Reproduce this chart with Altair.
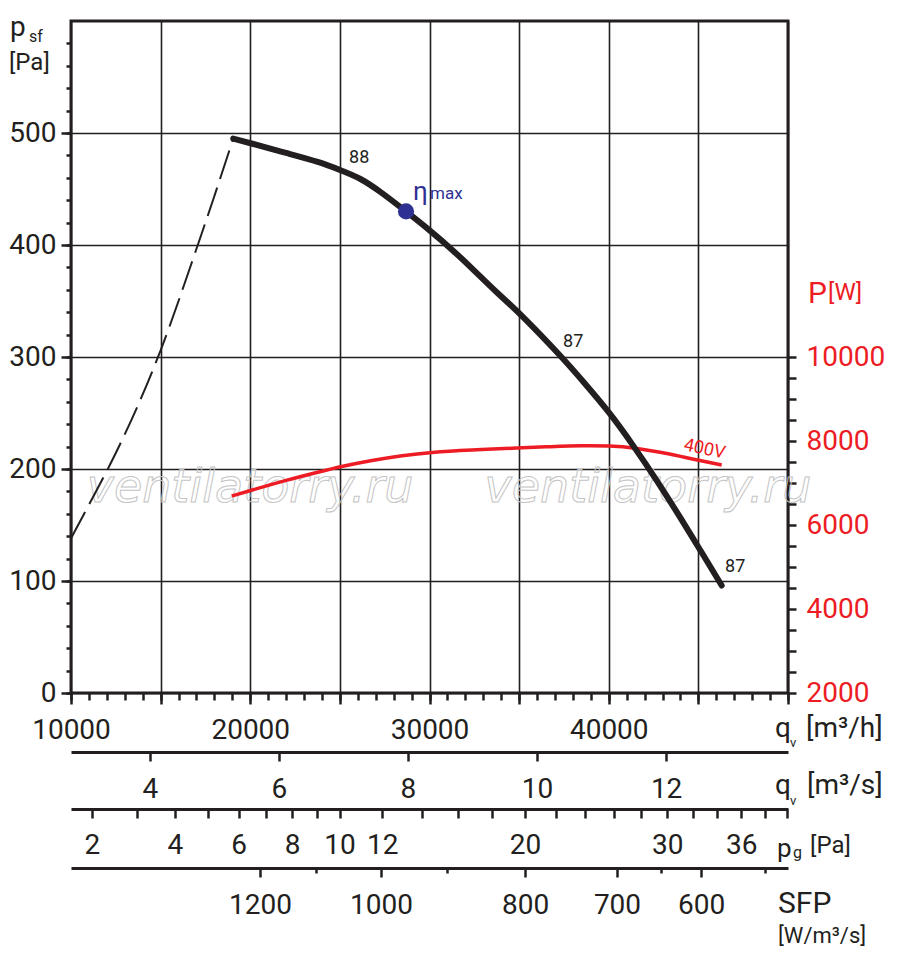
import math
import altair as alt
import pandas as pd

FONT = "Roboto"
INK = "#231f20"
RED = "#ed1c24"
NAVY = "#2e3192"

# ---------------- data ----------------
# fan curve: static pressure p_sf [Pa] vs volume flow q_v [m3/h]
curve_q = [19050, 19990, 22030, 23890, 25010, 26120, 27240, 28690, 30030, 31330,
           32450, 33750, 35050, 37380, 38580, 40070, 41370, 42680, 43980, 45090, 46300]
curve_p = [495, 491, 482, 474, 467, 460, 448, 430, 413, 395,
           378, 357.5, 339, 300, 278, 250, 221, 190, 157, 128, 96]

# stall limit (dashed)
stall_q = [10000, 11230, 12180, 15000, 17030, 17920, 19050]
stall_p = [138, 175, 204, 306, 398, 440, 495]

# input power P [W] (400V)
power_q = [18970, 19990, 22030, 23890, 25010, 26680, 28540, 30030, 32260, 35050,
           36720, 38580, 40070, 41370, 43230, 44720, 46300]
power_w = [6690, 6817, 7071, 7269, 7388, 7535, 7660, 7731, 7785, 7835,
           7865, 7895, 7885, 7845, 7707, 7564, 7429]

# best efficiency point
eta_q = [28690]
eta_p = [430]

# axis ticks
q_major = list(range(10000, 50001, 5000))
q_minor = list(range(10000, 50001, 1000))
p_major = list(range(0, 501, 100))
p_minor = list(range(0, 581, 20))
pw_ticks = list(range(2000, 10001, 500))
qs_ticks = [4, 6, 8, 10, 12]                               # q_v [m3/s]
pg_ticks = list(range(2, 11)) + list(range(12, 41, 2))     # p_g [Pa]
pg_labels = [2, 4, 6, 8, 10, 12, 20, 30, 36]
PG_K = 0.2077                                              # p_g = K * q[m3/s]^2
sfp_major = [1200, 1000, 800, 700, 600]
sfp_major_q = [20540, 27290, 35330, 40460, 45150]
sfp_minor_q = [23670, 30980, 42920, 48720]

# annotations inside the plot
ann_text = ["88", "87", "87", "η", "max", "400V"]
ann_q = [25510, 37450, 46490, 29080, 30030, 44140]
ann_p = [473.2, 308.9, 108, 440, 441, 217]

# axis captions
cap_text = ["p", "sf", "[Pa]", "P", "[W]",
            "q", "v", "[m³/h]", "q", "v", "[m³/s]",
            "p", "g", "[Pa]", "SFP", "[W/m³/s]"]
cap_q = [6600, 7660, 6540, 51117, 52233,
         49276, 50113, 51006, 49276, 50113, 51062,
         49388, 50280, 51230, 49444, 49444]
cap_p = [586.6, 581, 556.5, 348.2, 350.9,
         -39.3, -48.2, -39.3, -90.2, -100, -90.2,
         -146.4, -147.3, -142.9, -196.4, -223.2]

wm_text = ["ventilatorry.ru", "ventilatorry.ru"]
wm_q = [19990, 42190]
wm_p = [170.5, 170.5]

# ---------------- styling ----------------
ann_size = [18, 18, 18, 26, 17, 18]
ann_color = [INK, INK, INK, NAVY, NAVY, RED]
ann_angle = [0, 0, 0, 0, 0, 12]
cap_size = [28, 16, 24, 30, 24, 28, 13, 28, 28, 13, 28, 26, 16, 24, 30, 22]
cap_color = [INK, INK, INK, RED, RED] + [INK] * 11

xs = alt.Scale(domain=[10000, 50000], nice=False, zero=False)
ys = alt.Scale(domain=[0, 600], nice=False, zero=False)
ws = alt.Scale(domain=[2000, 18000], nice=False, zero=False)


def ax(**kw):
    base = dict(title=None, labelFont=FONT, labelFontSize=28, labelColor=INK,
                tickColor=INK, tickWidth=2.5, domainColor=INK, domainWidth=3,
                labelFlush=False, labelOverlap=False, grid=False, domain=False)
    base.update(kw)
    return alt.Axis(**base)


pg_q = [3600 * math.sqrt(p / PG_K) for p in pg_ticks]
pg_expr = (f"indexof({pg_labels}, round({PG_K}*pow(datum.value/3600,2))) >= 0"
           f" ? '' + round({PG_K}*pow(datum.value/3600,2)) : ''")
sfp_expr = (f"indexof({sfp_major_q}, datum.value) >= 0 ? "
            f"'' + {sfp_major}[indexof({sfp_major_q}, datum.value)] : ''")

wm = alt.Chart(pd.DataFrame({"t": wm_text, "q": wm_q, "p": wm_p})).mark_text(
    font="DejaVu Sans", fontStyle="italic", fontSize=46, align="center",
    baseline="alphabetic", fill="transparent", stroke="#c4c4c4", strokeWidth=1
).encode(x=alt.X("q:Q", scale=xs, axis=None),
         y=alt.Y("p:Q", scale=ys, axis=None), text="t:N")

stall = alt.Chart(pd.DataFrame({"q": stall_q, "p": stall_p})).mark_line(
    color=INK, strokeWidth=2, strokeDash=[30, 9], interpolate="monotone"
).encode(
    x=alt.X("q:Q", scale=xs, axis=ax(
        orient="bottom", values=q_major, grid=True, gridColor=INK, gridWidth=1.6,
        tickSize=11, labelPadding=12,
        labelExpr="datum.value % 10000 == 0 && datum.value < 50000 ? '' + datum.value : ''")),
    y=alt.Y("p:Q", scale=ys, axis=ax(
        orient="left", values=p_major, grid=True, gridColor=INK, gridWidth=1.6,
        tickSize=10, labelPadding=5, format="d")),
)

power = alt.Chart(pd.DataFrame({"q": power_q, "w": power_w})).mark_line(
    color=RED, strokeWidth=3.5, interpolate="basis"
).encode(
    x=alt.X("q:Q", scale=xs, axis=ax(
        orient="bottom", offset=59, domain=True, values=[v * 3600 for v in qs_ticks],
        tickSize=9, labelPadding=14, labelExpr="'' + round(datum.value/3600)")),
    y=alt.Y("w:Q", scale=ws, axis=ax(
        orient="right", values=pw_ticks, tickSize=8, labelPadding=10,
        labelColor=RED, labelExpr="datum.value % 2000 == 0 ? '' + datum.value : ''")),
)

curve = alt.Chart(pd.DataFrame({"q": curve_q, "p": curve_p})).mark_line(
    color=INK, strokeWidth=6, interpolate="basis", strokeCap="round"
).encode(
    x=alt.X("q:Q", scale=xs, axis=ax(orient="bottom", values=q_minor, tickSize=7, labels=False)),
    y=alt.Y("p:Q", scale=ys, axis=ax(orient="left", values=p_minor, tickSize=5, labels=False)),
)

eta = alt.Chart(pd.DataFrame({"q": eta_q, "p": eta_p})).mark_circle(
    size=260, color=NAVY, opacity=1
).encode(
    x=alt.X("q:Q", scale=xs, axis=ax(
        orient="bottom", offset=116, domain=True, values=pg_q, tickSize=9,
        labelPadding=13, labelExpr=pg_expr)),
    y=alt.Y("p:Q", scale=ys, axis=None),
)

ann = alt.Chart(pd.DataFrame({"t": ann_text, "q": ann_q, "p": ann_p, "s": ann_size,
                              "c": ann_color, "a": ann_angle})).mark_text(
    font=FONT, align="left", baseline="alphabetic"
).encode(
    x=alt.X("q:Q", scale=xs, axis=ax(
        orient="bottom", offset=175, domain=True, values=sfp_major_q, tickSize=9,
        labelPadding=14, labelExpr=sfp_expr)),
    y=alt.Y("p:Q", scale=ys, axis=None),
    text="t:N", size=alt.Size("s:Q", scale=None),
    color=alt.Color("c:N", scale=None), angle=alt.Angle("a:Q", scale=None),
)

caps = alt.Chart(pd.DataFrame({"t": cap_text, "q": cap_q, "p": cap_p, "s": cap_size,
                               "c": cap_color})).mark_text(
    font=FONT, align="left", baseline="alphabetic"
).encode(
    x=alt.X("q:Q", scale=xs, axis=ax(
        orient="bottom", offset=175, values=sfp_minor_q, tickSize=5, labels=False)),
    y=alt.Y("p:Q", scale=ys, axis=None),
    text="t:N", size=alt.Size("s:Q", scale=None),
    color=alt.Color("c:N", scale=None),
)

chart = alt.layer(wm, power, stall, curve, eta, ann, caps).resolve_scale(
    y="independent"
).resolve_axis(x="independent", y="independent").properties(
    width=717, height=672,
    padding={"left": 63, "top": 13, "right": 104, "bottom": 262},
    autosize=alt.AutoSizeParams(type="none"),
    background="white",
).configure_view(stroke=INK, strokeWidth=3)

chart.save("out.html", embed_options={"renderer": "svg", "actions": False})
